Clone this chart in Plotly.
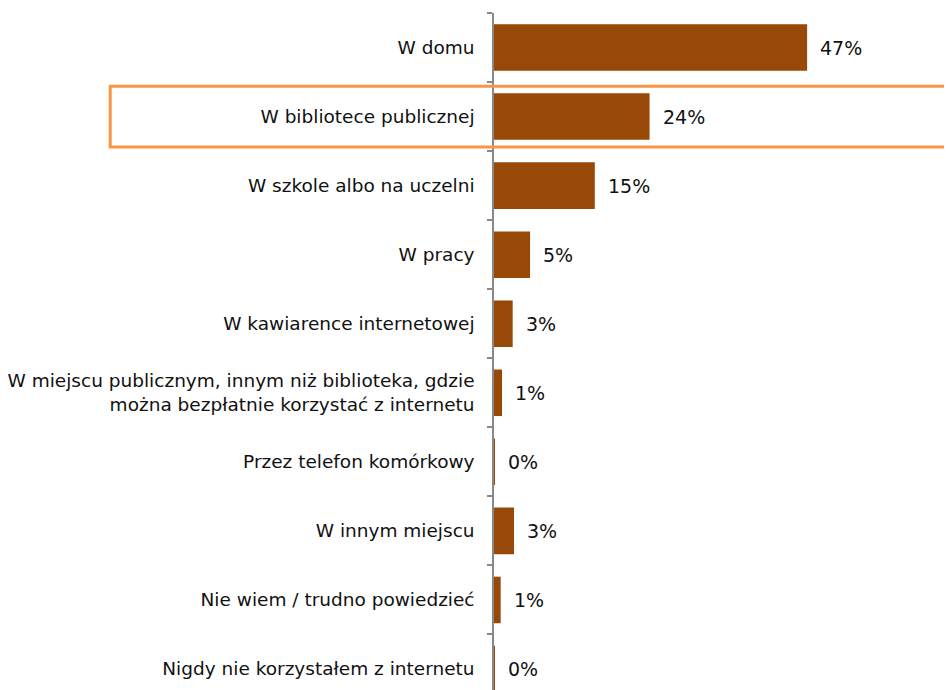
import plotly.graph_objects as go

categories = [
    "W domu",
    "W bibliotece publicznej",
    "W szkole albo na uczelni",
    "W pracy",
    "W kawiarence internetowej",
    "W miejscu publicznym, innym niż biblioteka, gdzie<br>można bezpłatnie korzystać z internetu",
    "Przez telefon komórkowy",
    "W innym miejscu",
    "Nie wiem / trudno powiedzieć",
    "Nigdy nie korzystałem z internetu",
]
values = [46.9, 23.3, 15.1, 5.4, 2.8, 1.2, 0.15, 3.0, 1.0, 0.15]
value_labels = ["47%", "24%", "15%", "5%", "3%", "1%", "0%", "3%", "1%", "0%"]
highlight = "W bibliotece publicznej"

FONT = "DejaVu Sans"
BAR = "#984807"

fig = go.Figure(go.Bar(
    x=values, y=categories, orientation="h",
    marker=dict(color=BAR, line=dict(width=0)),
    hoverinfo="skip",
))

for c, v, t in zip(categories, values, value_labels):
    fig.add_annotation(x=v, y=c, text=t, showarrow=False, xanchor="left",
                       xshift=11, font=dict(family=FONT, size=19, color="#111111"))

hi = categories.index(highlight)
fig.add_shape(type="rect", xref="paper", yref="y",
              x0=-0.838, x1=1.05, y0=hi - 0.44, y1=hi + 0.44,
              line=dict(color="#F79646", width=3), fillcolor="rgba(0,0,0,0)")

fig.update_layout(
    width=952, height=690,
    margin=dict(l=486, r=8, t=5, b=0, pad=0),
    plot_bgcolor="white", paper_bgcolor="white",
    bargap=0.326, showlegend=False,
    font=dict(family=FONT, size=18, color="#111111"),
)
fig.update_xaxes(range=[0, 68.6], visible=False)
fig.update_yaxes(
    type="category", categoryorder="array", categoryarray=categories,
    range=[9.42, -0.5], showline=True, linecolor="#888888", linewidth=1.5,
    ticks="outside", tickson="boundaries", ticklen=5, tickcolor="#888888",
    tickwidth=1.5, showgrid=False, ticklabelstandoff=14,
    tickfont=dict(family=FONT, size=18.5, color="#111111"),
)

fig.write_html("out.html")
